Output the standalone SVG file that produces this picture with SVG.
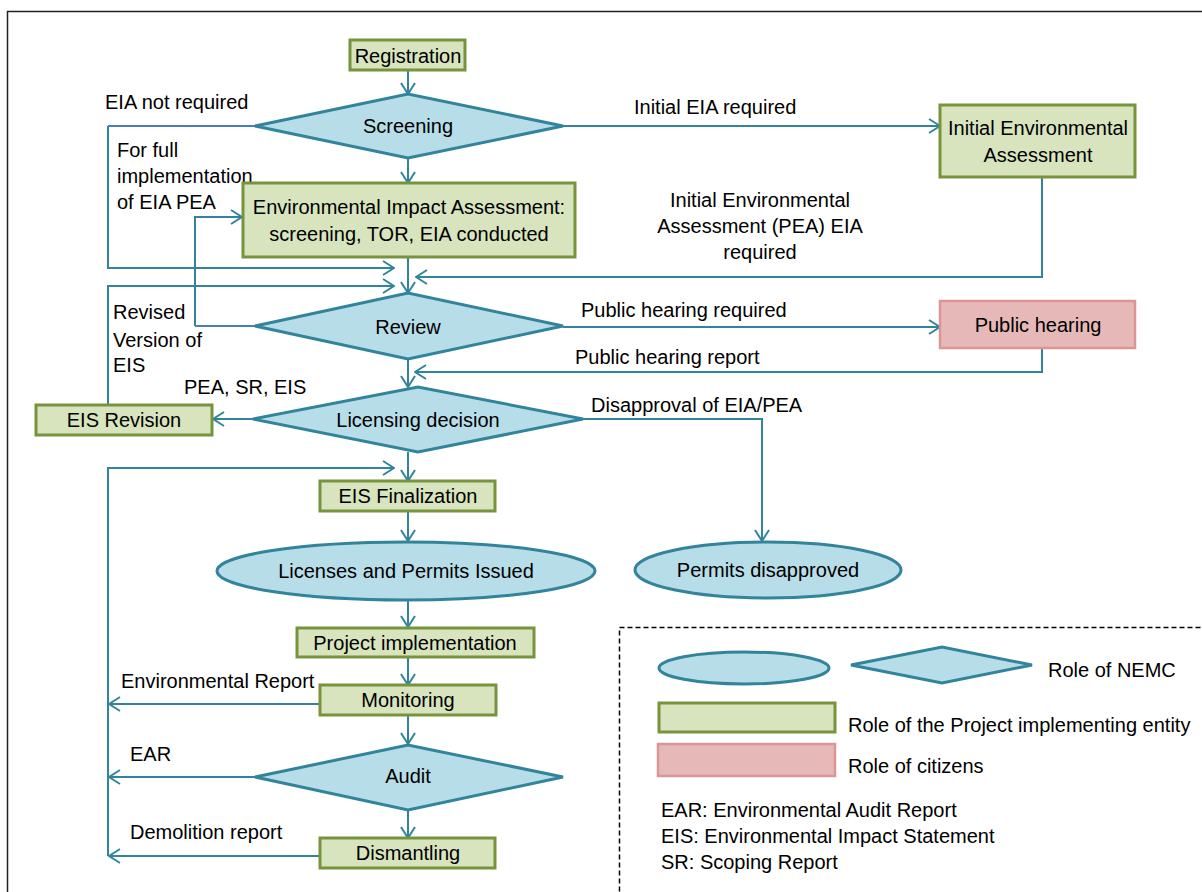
<svg xmlns="http://www.w3.org/2000/svg" width="1202" height="892" viewBox="0 0 1202 892">
  <style>
    text { font-family: "Liberation Sans", Arial, sans-serif; font-size: 20px; fill: #000; }
    .c { text-anchor: middle; }
    .green { fill: #D7E4BD; stroke: #77933C; stroke-width: 3; }
    .pink { fill: #E6B9B8; stroke: #D99694; stroke-width: 2.5; }
    .nemc { fill: #B7DDE8; stroke: #31849B; stroke-width: 3; }
    .wire { fill: none; stroke: #31849B; stroke-width: 2; }
    .wire2 { fill: none; stroke: #4A7EBB; stroke-width: 2; }
    .arr { marker-end: url(#head); }
  </style>
  <defs>
    <marker id="head" viewBox="0 0 13 16" refX="12" refY="8" markerWidth="13" markerHeight="16" markerUnits="userSpaceOnUse" orient="auto">
      <path d="M1,1 L12,8 L1,15" fill="none" stroke="#31849B" stroke-width="2"/>
    </marker>
  </defs>

  <!-- page frame -->
  <rect x="7.5" y="11.5" width="1220" height="900" fill="#fff" stroke="#222" stroke-width="1.5"/>

  <!-- connectors -->
  <g id="connectors">
    <path class="wire" d="M408,70 V94" marker-end="url(#head)"/>
    <path class="wire" d="M408,158 V183" marker-end="url(#head)"/>
    <path class="wire" d="M408,257 V293" marker-end="url(#head)"/>
    <path class="wire" d="M108,126 V268 H394" marker-end="url(#head)"/>
    <path class="wire2" d="M255,126 H108"/>
    <path class="wire" d="M563,126 H940" marker-end="url(#head)"/>
    <path class="wire" d="M1042,177 V277 H416" marker-end="url(#head)"/>
    <path class="wire" d="M195,326 V217 H242" marker-end="url(#head)"/>
    <path class="wire2" d="M255,326 H195"/>
    <path class="wire" d="M108,405 V286 H394" marker-end="url(#head)"/>
    <path class="wire" d="M563,327 H940" marker-end="url(#head)"/>
    <path class="wire" d="M1042,348 V372 H415" marker-end="url(#head)"/>
    <path class="wire" d="M408,359 V387" marker-end="url(#head)"/>
    <path class="wire" d="M253,419 H213" marker-end="url(#head)"/>
    <path class="wire" d="M583,419 H762 V541" marker-end="url(#head)"/>
    <path class="wire" d="M408,452 V481" marker-end="url(#head)"/>
    <path class="wire" d="M108,856 V468 H394" marker-end="url(#head)"/>
    <path class="wire" d="M408,511 V541" marker-end="url(#head)"/>
    <path class="wire" d="M408,600 V627" marker-end="url(#head)"/>
    <path class="wire" d="M408,657 V685" marker-end="url(#head)"/>
    <path class="wire" d="M408,715 V744" marker-end="url(#head)"/>
    <path class="wire" d="M408,810 V838" marker-end="url(#head)"/>
    <path class="wire" d="M320,704 H109" marker-end="url(#head)"/>
    <path class="wire" d="M255,777 H109" marker-end="url(#head)"/>
    <path class="wire" d="M320,856 H109" marker-end="url(#head)"/>
  </g>

  <!-- connector labels -->
  <g id="labels">
    <text x="105" y="109">EIA not required</text>
    <text x="117" y="157">For full</text>
    <text x="117" y="183">implementation</text>
    <text x="117" y="209">of EIA PEA</text>
    <text x="634" y="114">Initial EIA required</text>
    <text class="c" x="760" y="207">Initial Environmental</text>
    <text class="c" x="760" y="233">Assessment (PEA) EIA</text>
    <text class="c" x="760" y="259">required</text>
    <text x="581" y="317">Public hearing required</text>
    <text x="575" y="364">Public hearing report</text>
    <text x="113" y="319">Revised</text>
    <text x="113" y="347">Version of</text>
    <text x="113" y="372">EIS</text>
    <text x="184" y="394">PEA, SR, EIS</text>
    <text x="591" y="412">Disapproval of EIA/PEA</text>
    <text x="121" y="688">Environmental Report</text>
    <text x="130" y="761">EAR</text>
    <text x="130" y="839">Demolition report</text>
  </g>

  <!-- nodes -->
  <g id="registration">
    <rect class="green" x="350" y="40" width="115" height="30"/>
    <text class="c" x="408" y="63">Registration</text>
  </g>
  <g id="screening">
    <polygon class="nemc" points="255,126 408,94 563,126 408,158"/>
    <text class="c" x="408" y="133">Screening</text>
  </g>
  <g id="eia">
    <rect class="green" x="243" y="183" width="332" height="74"/>
    <text class="c" x="409" y="214">Environmental Impact Assessment:</text>
    <text class="c" x="409" y="241">screening, TOR, EIA conducted</text>
  </g>
  <g id="iea">
    <rect class="green" x="940" y="105" width="195" height="72"/>
    <text class="c" x="1038" y="135">Initial Environmental</text>
    <text class="c" x="1038" y="162">Assessment</text>
  </g>
  <g id="review">
    <polygon class="nemc" points="255,326 408,293 563,326 408,359"/>
    <text class="c" x="408" y="334">Review</text>
  </g>
  <g id="public-hearing">
    <rect class="pink" x="940" y="301" width="195" height="47"/>
    <text class="c" x="1038" y="332">Public hearing</text>
  </g>
  <g id="licensing">
    <polygon class="nemc" points="253,419 418,387 583,419 418,452"/>
    <text class="c" x="418" y="427">Licensing decision</text>
  </g>
  <g id="eis-revision">
    <rect class="green" x="36" y="405" width="176" height="30"/>
    <text class="c" x="124" y="427">EIS Revision</text>
  </g>
  <g id="eis-finalization">
    <rect class="green" x="320" y="481" width="175" height="30"/>
    <text class="c" x="408" y="503">EIS Finalization</text>
  </g>
  <g id="licenses-issued">
    <ellipse class="nemc" cx="406" cy="571" rx="189" ry="29"/>
    <text class="c" x="406" y="578">Licenses and Permits Issued</text>
  </g>
  <g id="permits-disapproved">
    <ellipse class="nemc" cx="768" cy="570" rx="133" ry="28"/>
    <text class="c" x="768" y="577">Permits disapproved</text>
  </g>
  <g id="project-implementation">
    <rect class="green" x="297" y="628" width="237" height="29"/>
    <text class="c" x="415" y="650">Project implementation</text>
  </g>
  <g id="monitoring">
    <rect class="green" x="320" y="685" width="176" height="30"/>
    <text class="c" x="408" y="707">Monitoring</text>
  </g>
  <g id="audit">
    <polygon class="nemc" points="255,777 408,745 563,777 408,810"/>
    <text class="c" x="408" y="783">Audit</text>
  </g>
  <g id="dismantling">
    <rect class="green" x="320" y="838" width="175" height="30"/>
    <text class="c" x="408" y="860">Dismantling</text>
  </g>

  <!-- legend -->
  <g id="legend">
    <rect x="619.5" y="627.5" width="620" height="300" fill="none" stroke="#000" stroke-width="1.5" stroke-dasharray="5,3"/>
    <ellipse class="nemc" cx="744" cy="668" rx="85" ry="16"/>
    <polygon class="nemc" points="851,665 942,647 1032,665 942,683"/>
    <text x="1048" y="677">Role of NEMC</text>
    <rect class="green" x="659" y="703" width="176" height="29"/>
    <text x="848" y="732">Role of the Project implementing entity</text>
    <rect class="pink" x="658" y="744" width="177" height="32"/>
    <text x="848" y="773">Role of citizens</text>
    <text x="661" y="817">EAR: Environmental Audit Report</text>
    <text x="661" y="843">EIS: Environmental Impact Statement</text>
    <text x="661" y="869">SR: Scoping Report</text>
  </g>
</svg>
